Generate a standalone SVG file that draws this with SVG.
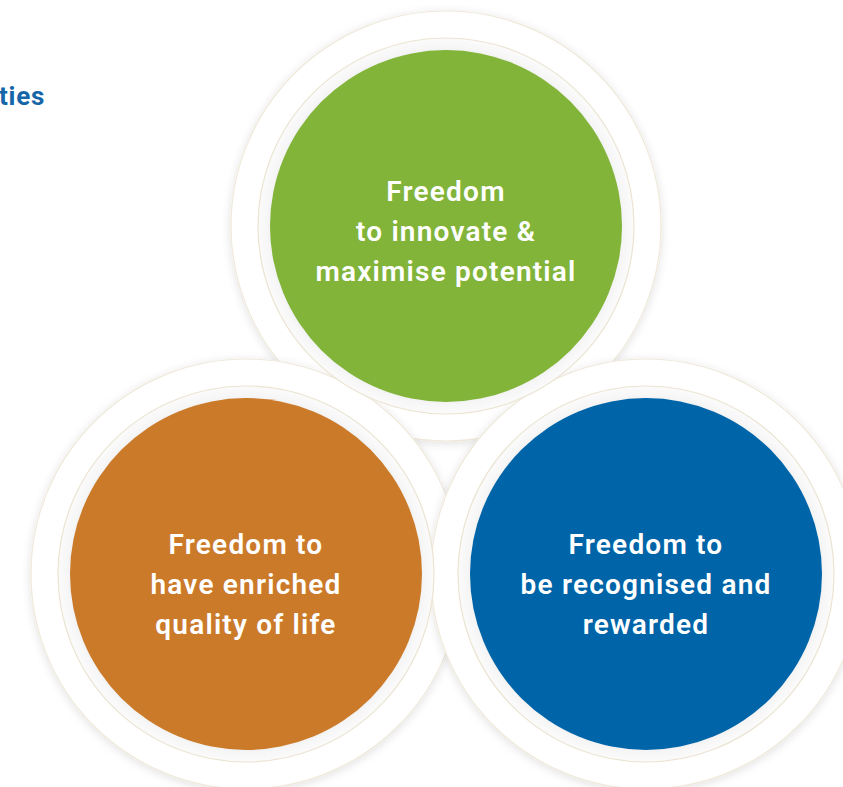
<svg xmlns="http://www.w3.org/2000/svg" width="843" height="787" viewBox="0 0 843 787">
<defs>
<filter id="sh" x="-20%" y="-20%" width="140%" height="140%">
<feDropShadow dx="0" dy="2" stdDeviation="5" flood-color="#000" flood-opacity="0.12"/>
</filter>
<radialGradient id="band" cx="50%" cy="50%" r="50%">
<stop offset="0.9" stop-color="#e9e9e9"/>
<stop offset="0.95" stop-color="#f6f6f6"/>
<stop offset="1" stop-color="#fbfbfb"/>
</radialGradient>
<style>
.outer{fill:#fff;stroke:#efe9da;stroke-width:1.2;filter:url(#sh)}
.inner{fill:url(#band);stroke:#ebe4d2;stroke-width:1.2}
.lbl{font-family:Roboto,"Liberation Sans",sans-serif;font-weight:600;font-size:28px;letter-spacing:1.2px;fill:#fff;text-anchor:middle}
</style>
</defs>
<rect width="843" height="787" fill="#fff"/>
<text x="-1" y="105" font-family="Roboto,'Liberation Sans',sans-serif" font-weight="700" font-size="26" letter-spacing="0.8" fill="#1565a8">ties</text>
<g id="green">
<circle class="outer" cx="446" cy="226" r="215"/>
</g>
<g id="orange">
<circle class="outer" cx="246" cy="574" r="215"/>
</g>
<g id="blue">
<circle class="outer" cx="646" cy="574" r="215"/>
</g>
<g id="green-node">
<circle class="inner" cx="446" cy="226" r="188"/>
<circle cx="446" cy="226" r="176" fill="#82b43a"/>
<text class="lbl" x="446" y="201">Freedom</text>
<text class="lbl" x="446" y="241">to innovate &amp;</text>
<text class="lbl" x="446" y="281">maximise potential</text>
</g>
<g id="orange-node">
<circle class="inner" cx="246" cy="574" r="188"/>
<circle cx="246" cy="574" r="176" fill="#cb7a2a"/>
<text class="lbl" x="246" y="554">Freedom to</text>
<text class="lbl" x="246" y="594">have enriched</text>
<text class="lbl" x="246" y="634">quality of life</text>
</g>
<g id="blue-node">
<circle class="inner" cx="646" cy="574" r="188"/>
<circle cx="646" cy="574" r="176" fill="#0064a8"/>
<text class="lbl" x="646" y="554">Freedom to</text>
<text class="lbl" x="646" y="594">be recognised and</text>
<text class="lbl" x="646" y="634">rewarded</text>
</g>
<g id="connectors"/>
</svg>
